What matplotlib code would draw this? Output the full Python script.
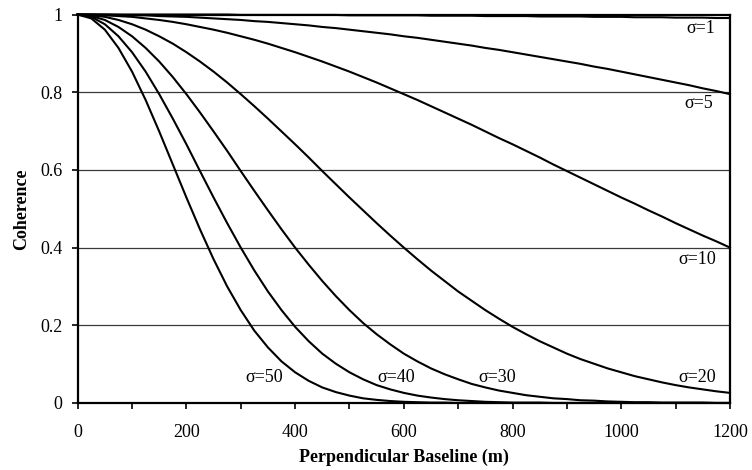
import matplotlib
matplotlib.use("Agg")
import matplotlib.pyplot as plt

# Perpendicular baseline samples (m), every 25 m
baseline_m = list(range(0, 1201, 25))

# Coherence for each height standard deviation sigma
coh_s1 = [1.000, 1.000, 1.000, 1.000, 1.000, 1.000, 1.000, 1.000, 1.000, 1.000,
          1.000, 1.000, 0.999, 0.999, 0.999, 0.999, 0.999, 0.999, 0.999, 0.999,
          0.998, 0.998, 0.998, 0.998, 0.998, 0.998, 0.997, 0.997, 0.997, 0.997,
          0.996, 0.996, 0.996, 0.996, 0.995, 0.995, 0.995, 0.995, 0.994, 0.994,
          0.994, 0.993, 0.993, 0.993, 0.992, 0.992, 0.992, 0.991, 0.991]
coh_s5 = [1.000, 1.000, 1.000, 0.999, 0.998, 0.998, 0.996, 0.995, 0.994, 0.992,
          0.990, 0.988, 0.986, 0.983, 0.981, 0.978, 0.975, 0.972, 0.968, 0.965,
          0.961, 0.957, 0.953, 0.949, 0.944, 0.940, 0.935, 0.930, 0.925, 0.920,
          0.914, 0.909, 0.903, 0.897, 0.891, 0.885, 0.879, 0.873, 0.866, 0.860,
          0.853, 0.846, 0.839, 0.832, 0.825, 0.818, 0.810, 0.803, 0.795]
coh_s10 = [1.000, 1.000, 0.998, 0.996, 0.994, 0.990, 0.986, 0.981, 0.975, 0.968,
           0.961, 0.953, 0.944, 0.935, 0.925, 0.914, 0.903, 0.891, 0.879, 0.866,
           0.853, 0.839, 0.825, 0.810, 0.795, 0.780, 0.764, 0.748, 0.732, 0.716,
           0.699, 0.682, 0.666, 0.649, 0.632, 0.614, 0.597, 0.580, 0.563, 0.546,
           0.529, 0.513, 0.496, 0.480, 0.463, 0.447, 0.431, 0.416, 0.400]
coh_s20 = [1.000, 0.998, 0.994, 0.986, 0.975, 0.961, 0.944, 0.925, 0.903, 0.879,
           0.853, 0.825, 0.795, 0.764, 0.732, 0.699, 0.666, 0.632, 0.597, 0.563,
           0.529, 0.496, 0.463, 0.431, 0.400, 0.370, 0.341, 0.314, 0.287, 0.263,
           0.239, 0.217, 0.196, 0.177, 0.159, 0.143, 0.127, 0.113, 0.101, 0.089,
           0.079, 0.069, 0.061, 0.053, 0.046, 0.040, 0.035, 0.030, 0.026]
coh_s30 = [1.000, 0.996, 0.986, 0.968, 0.944, 0.914, 0.879, 0.839, 0.795, 0.748,
           0.699, 0.649, 0.597, 0.546, 0.496, 0.447, 0.400, 0.356, 0.314, 0.275,
           0.239, 0.206, 0.177, 0.151, 0.127, 0.107, 0.089, 0.074, 0.061, 0.049,
           0.040, 0.032, 0.026, 0.020, 0.016, 0.012, 0.010, 0.007, 0.006, 0.004,
           0.003, 0.002, 0.002, 0.001, 0.001, 0.001, 0.001, 0.000, 0.000]
coh_s40 = [1.000, 0.994, 0.975, 0.944, 0.903, 0.853, 0.795, 0.732, 0.666, 0.597,
           0.529, 0.463, 0.400, 0.341, 0.287, 0.239, 0.196, 0.159, 0.127, 0.101,
           0.079, 0.061, 0.046, 0.035, 0.026, 0.019, 0.014, 0.010, 0.007, 0.005,
           0.003, 0.002, 0.001, 0.001, 0.001, 0.000, 0.000, 0.000, 0.000, 0.000,
           0.000, 0.000, 0.000, 0.000, 0.000, 0.000, 0.000, 0.000, 0.000]
coh_s50 = [1.000, 0.990, 0.961, 0.914, 0.853, 0.780, 0.699, 0.614, 0.529, 0.447,
           0.370, 0.300, 0.239, 0.186, 0.143, 0.107, 0.079, 0.057, 0.040, 0.028,
           0.019, 0.012, 0.008, 0.005, 0.003, 0.002, 0.001, 0.001, 0.000, 0.000,
           0.000, 0.000, 0.000, 0.000, 0.000, 0.000, 0.000, 0.000, 0.000, 0.000,
           0.000, 0.000, 0.000, 0.000, 0.000, 0.000, 0.000, 0.000, 0.000]

series = [coh_s1, coh_s5, coh_s10, coh_s20, coh_s30, coh_s40, coh_s50]
labels = ["σ=1", "σ=5", "σ=10", "σ=20", "σ=30", "σ=40", "σ=50"]
label_pos = [(1146, 0.963), (1143, 0.770), (1140, 0.370), (1140, 0.065),
             (771, 0.065), (586, 0.065), (343, 0.065)]

x_ticks = list(range(0, 1201, 100))
x_ticklabels = ["0", "", "200", "", "400", "", "600", "", "800", "", "1000", "", "1200"]
y_ticks = [0, 0.2, 0.4, 0.6, 0.8, 1.0]
y_ticklabels = ["0", "0.2", "0.4", "0.6", "0.8", "1"]

plt.rcParams["font.family"] = ["Liberation Serif", "DejaVu Serif"]

fig = plt.figure(figsize=(7.52, 4.70), dpi=100)
ax = fig.add_axes([0.1033, 0.1426, 0.8674, 0.8265])

for yv in y_ticks[1:-1]:
    ax.axhline(yv, color="#3a3a3a", lw=0.9, zorder=1)

for vals in series:
    ax.plot(baseline_m, vals, color="black", lw=1.5, zorder=3,
            solid_joinstyle="round", clip_on=False)

for txt, (bx, cy) in zip(labels, label_pos):
    ax.text(bx, cy, txt, ha="center", va="center", fontsize=13, zorder=4)

ax.set_xlim(0, 1200)
ax.set_ylim(0, 1)
ax.set_xticks(x_ticks)
ax.set_xticklabels(x_ticklabels, fontsize=13)
ax.set_yticks(y_ticks)
ax.set_yticklabels(y_ticklabels, fontsize=13)
ax.tick_params(axis="both", direction="out", length=4, width=1.2, color="black")
ax.tick_params(axis="x", pad=11)
ax.tick_params(axis="y", pad=7)

for side in ["left", "bottom", "right", "top"]:
    ax.spines[side].set_linewidth(1.6)
    ax.spines[side].set_color("black")

ax.set_xlabel("Perpendicular Baseline (m)", fontsize=13, fontweight="bold", labelpad=6)
ax.set_ylabel("Coherence", fontsize=13, fontweight="bold", labelpad=7)

fig.savefig("out.png", dpi=100)
